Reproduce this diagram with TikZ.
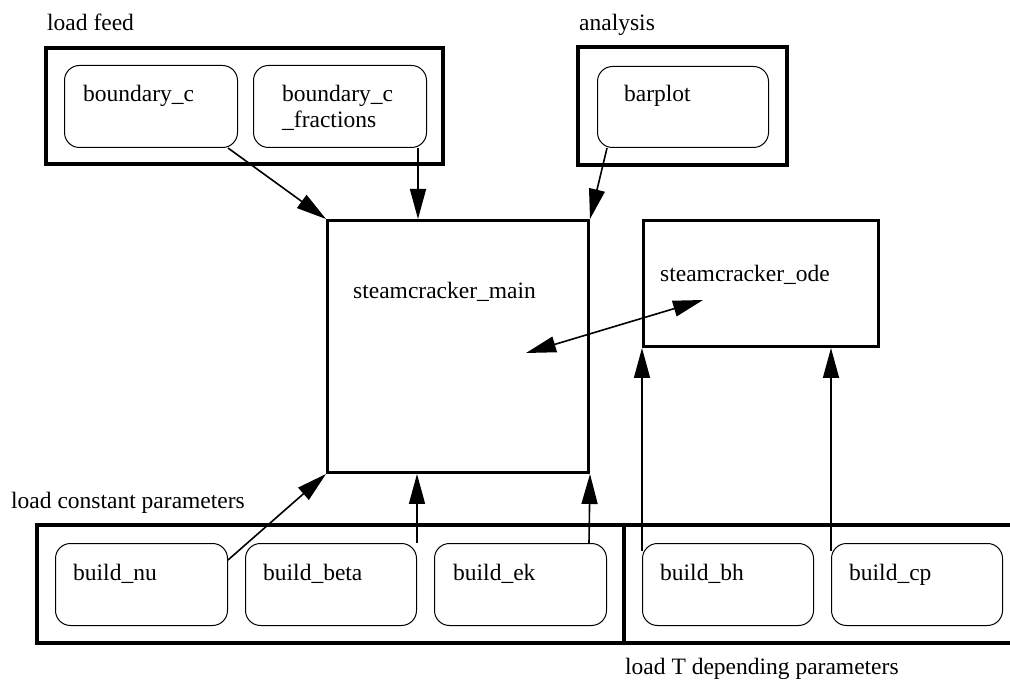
\documentclass[tikz,border=0pt]{standalone}
\usepackage{fontspec}
\setmainfont{Liberation Serif}
\usetikzlibrary{arrows.meta}
\tikzset{
    cluster/.style={line width=3.5pt},
    bigbox/.style={draw, line width=3pt, anchor=north west, inner sep=0pt},
    fbox/.style={draw, line width=1pt, rounded corners=15pt, anchor=north west, inner sep=0pt, minimum width=172pt, minimum height=82pt},
    lbl/.style={anchor=base west, inner sep=0pt, font=\fontsize{23.5}{27}\selectfont},
    flow/.style={line width=1.6pt, -{Triangle[length=30pt, width=16pt]}},
}
\begin{document}
\begin{tikzpicture}[x=1pt, y=-1pt]
        \useasboundingbox (0, 0) rectangle (1010, 684);
        % clusters
        \draw[cluster] (46, 48) rectangle (443, 164);
        \draw[cluster] (578, 47) rectangle (787, 165);
        \draw[cluster] (37, 525) rectangle (624, 643);
        \draw[cluster] (624, 525) rectangle (1030, 643);
        \node[lbl] (feed) at (47, 31) {load feed};
        \node[lbl] (ana) at (579, 31) {analysis};
        \node[lbl] (const) at (11, 508) {load constant parameters};
        \node[lbl] (tdep) at (625, 674) {load T depending parameters};
        % boxes
        \node[fbox, minimum width=173pt] (bc) at (64, 65) {};
        \node[fbox, minimum width=173pt] (bcf) at (253, 65) {};
        \node[fbox, minimum width=171pt, minimum height=81pt] (bp) at (597, 66) {};
        \node[bigbox, minimum width=261pt, minimum height=252pt] (main) at (326, 219) {};
        \node[bigbox, minimum width=235pt, minimum height=126pt] (ode) at (642, 219) {};
        \node[fbox] (nu) at (55, 543) {};
        \node[fbox, minimum width=171pt] (beta) at (245, 543) {};
        \node[fbox] (ek) at (434, 543) {};
        \node[fbox, minimum width=171pt] (bh) at (642, 543) {};
        \node[fbox, minimum width=171pt] (cp) at (831, 543) {};
        % labels
        \node[lbl] (bc-t) at (83, 102) {boundary\_c};
        \node[lbl] (bcf-t) at (282, 102) {boundary\_c};
        \node[lbl] (bcf-t2) at (282, 128) {\_fractions};
        \node[lbl] (bp-t) at (624, 102) {barplot};
        \node[lbl] (main-t) at (353, 299) {steamcracker\_main};
        \node[lbl] (ode-t) at (660, 282) {steamcracker\_ode};
        \node[lbl] (nu-t) at (73, 580) {build\_nu};
        \node[lbl] (beta-t) at (263, 580) {build\_beta};
        \node[lbl] (ek-t) at (453, 580) {build\_ek};
        \node[lbl] (bh-t) at (660, 580) {build\_bh};
        \node[lbl] (cp-t) at (849, 580) {build\_cp};
        % connections
        \draw[flow] ([xshift=-10pt]bc.south east) -- (main.north west);
        \draw[flow] ([xshift=-9pt]bcf.south east) -- ([xshift=-9pt]bcf.south east |- main.north);
        \draw[flow] ([xshift=10pt]bp.south west) -- (main.north east);
        \draw[flow] ([yshift=-17pt]nu.north east) -- (main.south west);
        \draw[flow] (beta.north east) -- (beta.north east |- main.south);
        \draw[flow] ([xshift=-18pt]ek.north east) -- (main.south east);
        \draw[flow] ([yshift=-8pt]bh.north west) -- (ode.south west);
        \draw[flow] ([yshift=-8pt]cp.north west) -- (cp.north west |- ode.south);
        \coordinate (main-in) at (526, 353);
        \coordinate (ode-in) at (703, 300);
        \draw[flow, {Triangle[length=30pt, width=16pt]}-{Triangle[length=30pt, width=16pt]}] (main-in) -- (ode-in);
    \end{tikzpicture}
\end{document}
